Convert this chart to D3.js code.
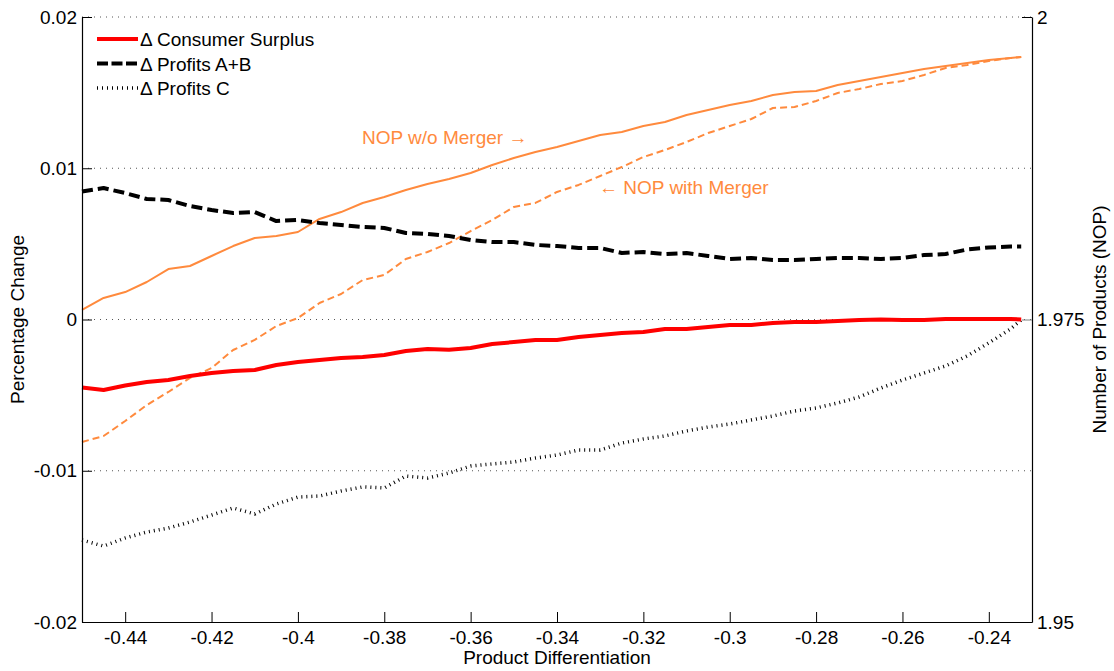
<!DOCTYPE html>
<html>
<head>
<meta charset="utf-8">
<script src="https://cdn.jsdelivr.net/npm/d3@7.9.0/dist/d3.min.js"></script>
<style>
  html, body { margin: 0; padding: 0; background: #fff; }
  svg text { font-family: Arial, "Liberation Sans", sans-serif; font-size: 19px; fill: #000; }
</style>
</head>
<body>
<svg id="chart" width="1114" height="671"></svg>
<script>
// --- data ---
const differentiation = [-0.45, -0.445, -0.44, -0.435, -0.43, -0.425, -0.42, -0.415, -0.41, -0.405,
  -0.40, -0.395, -0.39, -0.385, -0.38, -0.375, -0.37, -0.365, -0.36, -0.355,
  -0.35, -0.345, -0.34, -0.335, -0.33, -0.325, -0.32, -0.315, -0.31, -0.305,
  -0.30, -0.295, -0.29, -0.285, -0.28, -0.275, -0.27, -0.265, -0.26, -0.255,
  -0.25, -0.245, -0.24, -0.235, -0.2325];

const consumerSurplus = [-0.00450, -0.00466, -0.00436, -0.00413, -0.00400, -0.00374, -0.00354, -0.00340, -0.00334, -0.00301,
  -0.00281, -0.00268, -0.00255, -0.00248, -0.00235, -0.00208, -0.00195, -0.00200, -0.00188, -0.00162,
  -0.00149, -0.00136, -0.00136, -0.00116, -0.00102, -0.00089, -0.00083, -0.00063, -0.00063, -0.00050,
  -0.00036, -0.00036, -0.00023, -0.00017, -0.00017, -0.00010, -0.00003, 0, -0.00003, -0.00003,
  0.00003, 0.00003, 0.00003, 0.00003, 0];

const profitsAB = [0.00846, 0.00869, 0.00836, 0.00797, 0.00790, 0.00750, 0.00724, 0.00704, 0.00711, 0.00651,
  0.00658, 0.00638, 0.00625, 0.00612, 0.00605, 0.00572, 0.00565, 0.00552, 0.00526, 0.00512,
  0.00512, 0.00493, 0.00486, 0.00473, 0.00473, 0.00440, 0.00446, 0.00433, 0.00440, 0.00420,
  0.00400, 0.00407, 0.00393, 0.00393, 0.00400, 0.00407, 0.00407, 0.00400, 0.00407, 0.00426,
  0.00433, 0.00463, 0.00476, 0.00483, 0.00483];

const profitsC = [-0.01458, -0.01498, -0.01445, -0.01405, -0.01379, -0.01339, -0.01293, -0.01246, -0.01286, -0.01220,
  -0.01174, -0.01167, -0.01134, -0.01107, -0.01114, -0.01035, -0.01048, -0.01015, -0.00969, -0.00955,
  -0.00942, -0.00916, -0.00896, -0.00863, -0.00863, -0.00817, -0.00790, -0.00770, -0.00737, -0.00711,
  -0.00691, -0.00664, -0.00638, -0.00605, -0.00585, -0.00552, -0.00512, -0.00453, -0.00400, -0.00354,
  -0.00307, -0.00241, -0.00155, -0.00063, -0.00003];

// number of products, right axis
const nopWithout = [1.97579, 1.97678, 1.97727, 1.97810, 1.97917, 1.97942, 1.98025, 1.98107, 1.98174, 1.98190,
  1.98223, 1.98331, 1.98388, 1.98463, 1.98512, 1.98570, 1.98620, 1.98661, 1.98711, 1.98777,
  1.98835, 1.98884, 1.98926, 1.98975, 1.99025, 1.99050, 1.99099, 1.99132, 1.99190, 1.99231,
  1.99273, 1.99306, 1.99355, 1.99380, 1.99388, 1.99438, 1.99471, 1.99504, 1.99537, 1.99570,
  1.99595, 1.99620, 1.99645, 1.99661, 1.99669];

const nopWith = [1.96488, 1.96537, 1.96661, 1.96793, 1.96901, 1.97017, 1.97099, 1.97248, 1.97331, 1.97446,
  1.97512, 1.97636, 1.97711, 1.97826, 1.97868, 1.98000, 1.98058, 1.98132, 1.98231, 1.98322,
  1.98430, 1.98463, 1.98554, 1.98612, 1.98686, 1.98760, 1.98843, 1.98901, 1.98967, 1.99041,
  1.99099, 1.99157, 1.99248, 1.99256, 1.99306, 1.99372, 1.99405, 1.99446, 1.99471, 1.99521,
  1.99579, 1.99603, 1.99636, 1.99661, 1.99669];

const xTicks = [-0.44, -0.42, -0.4, -0.38, -0.36, -0.34, -0.32, -0.3, -0.28, -0.26, -0.24];
const yLeftTicks = [-0.02, -0.01, 0, 0.01, 0.02];
const yRightTicks = [1.95, 1.975, 2];
const gridValues = [-0.01, 0, 0.01, 0.02];

const legendLabels = ['\u0394 Consumer Surplus', '\u0394 Profits A+B', '\u0394 Profits C'];

// --- layout ---
const plot = { left: 82, right: 1032, top: 17, bottom: 622 };
const orange = '#ff8a3d';

const svg = d3.select('#chart');

const x = d3.scaleLinear().domain([-0.45, -0.23]).range([plot.left, plot.right]);
const yL = d3.scaleLinear().domain([-0.02, 0.02]).range([plot.bottom, plot.top]);
const yR = d3.scaleLinear().domain([1.95, 2.0]).range([plot.bottom, plot.top]);

// dotted grid lines
svg.append('g')
  .selectAll('line')
  .data(gridValues)
  .join('line')
    .attr('x1', plot.left).attr('x2', plot.right)
    .attr('y1', d => yL(d)).attr('y2', d => yL(d))
    .attr('stroke', '#555')
    .attr('stroke-width', 1)
    .attr('stroke-dasharray', '1,5');

// series
const rows = differentiation.map((d, i) => ({
  x: d, cs: consumerSurplus[i], ab: profitsAB[i], c: profitsC[i], nw: nopWithout[i], nm: nopWith[i]
}));

function drawLine(key, scale, color, width, dash) {
  svg.append('path')
    .datum(rows)
    .attr('fill', 'none')
    .attr('stroke', color)
    .attr('stroke-width', width)
    .attr('stroke-dasharray', dash)
    .attr('stroke-linejoin', 'round')
    .attr('d', d3.line().x(d => x(d.x)).y(d => scale(d[key])));
}

drawLine('nw', yR, orange, 2, null);
drawLine('nm', yR, orange, 2, '7,4');
drawLine('c', yL, '#000', 3.5, '1,4');
drawLine('ab', yL, '#000', 4, '11,5');
drawLine('cs', yL, '#ff0000', 4, null);

// axes (ticks inward)
const fmt = d => String(d);

svg.append('g')
  .attr('transform', `translate(0,${plot.bottom})`)
  .call(d3.axisBottom(x).tickValues(xTicks).tickFormat(fmt).tickSize(-10).tickSizeOuter(0).tickPadding(9))
  .call(g => g.selectAll('text').attr('font-size', null));

svg.append('g')
  .attr('transform', `translate(${plot.left},0)`)
  .call(d3.axisLeft(yL).tickValues(yLeftTicks).tickFormat(fmt).tickSize(-10).tickSizeOuter(0).tickPadding(5))
  .call(g => g.selectAll('text').attr('font-size', null));

svg.append('g')
  .attr('transform', `translate(${plot.right},0)`)
  .call(d3.axisRight(yR).tickValues(yRightTicks).tickFormat(fmt).tickSize(-10).tickSizeOuter(0).tickPadding(5))
  .call(g => g.selectAll('text').attr('font-size', null))
  .call(g => g.selectAll('.tick line').attr('stroke', (d) => d === 1.975 ? '#808080' : '#000'));

svg.selectAll('.domain').attr('stroke', '#000').attr('stroke-width', 1.2);
svg.selectAll('.tick text').attr('fill', '#000');

// axis titles
svg.append('text')
  .attr('x', (plot.left + plot.right) / 2).attr('y', 664)
  .attr('text-anchor', 'middle')
  .text('Product Differentiation');

svg.append('text')
  .attr('transform', `translate(24,${(plot.top + plot.bottom) / 2}) rotate(-90)`)
  .attr('text-anchor', 'middle')
  .text('Percentage Change');

svg.append('text')
  .attr('transform', `translate(1106,${(plot.top + plot.bottom) / 2}) rotate(-90)`)
  .attr('text-anchor', 'middle')
  .text('Number of Products (NOP)');

// annotations
svg.append('text')
  .attr('x', 362).attr('y', 144)
  .style('fill', orange)
  .text('NOP w/o Merger \u2192');

svg.append('text')
  .attr('x', 599).attr('y', 194)
  .style('fill', orange)
  .text('\u2190 NOP with Merger');

// legend
const legendStyles = [
  { color: '#ff0000', width: 4, dash: null },
  { color: '#000', width: 4, dash: '11,3.5' },
  { color: '#000', width: 3.5, dash: '1,4' }
];

const legend = svg.append('g');
legendLabels.forEach((label, i) => {
  const yy = 39 + i * 24.5;
  legend.append('line')
    .attr('x1', 97).attr('x2', 138)
    .attr('y1', yy).attr('y2', yy)
    .attr('stroke', legendStyles[i].color)
    .attr('stroke-width', legendStyles[i].width)
    .attr('stroke-dasharray', legendStyles[i].dash);
  legend.append('text')
    .attr('x', 140).attr('y', yy + 7)
    .text(label);
});
</script>
</body>
</html>
